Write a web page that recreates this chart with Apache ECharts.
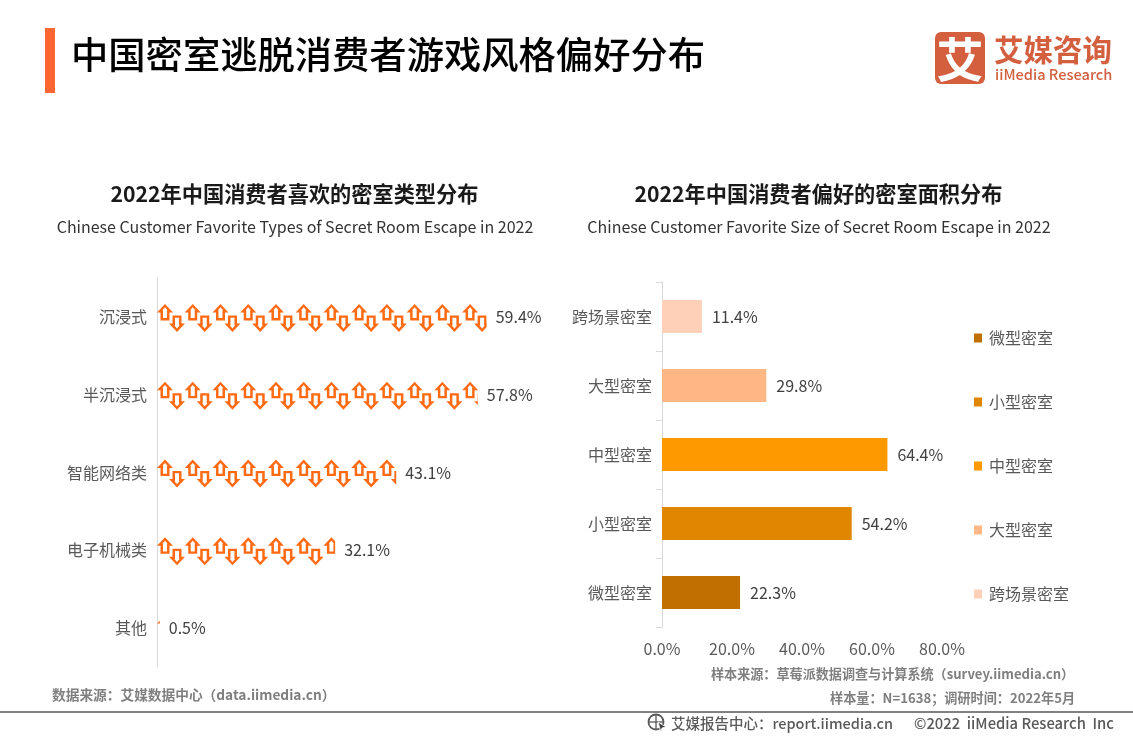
<!DOCTYPE html>
<html>
<head>
<meta charset="utf-8">
<title>中国密室逃脱消费者游戏风格偏好分布</title>
<script src="https://cdn.jsdelivr.net/npm/echarts@6/dist/echarts.min.js"></script>
<style>
html, body { margin: 0; padding: 0; background: #fff; }
#main { width: 1133px; height: 737px; }
</style>
</head>
<body>
<div id="main"></div>
<script>
var typeCategories = ['其他', '电子机械类', '智能网络类', '半沉浸式', '沉浸式'];
var typeValues = [0.5, 32.1, 43.1, 57.8, 59.4];
var sizeCategories = ['微型密室', '小型密室', '中型密室', '大型密室', '跨场景密室'];
var sizeValues = [22.3, 54.2, 64.4, 29.8, 11.4];
var sizeColors = ['#BF7000', '#E08600', '#FF9900', '#FFB885', '#FFD0B8'];
var sizeTicks = [0, 20, 40, 60, 80];

var FONT = '"Noto Sans CJK SC", "Noto Sans", sans-serif';
// 上下箭头一组，内圈反向绕行留出空心
var arrowPath = 'path://M7.5 0L15.5 8.5L12 8.5L12 16.5L3 16.5L3 8.5L-0.5 8.5Z' +
    'M7.5 3.4L4.9 6.3L5.5 6.3L5.5 14.2L9.5 14.2L9.5 6.3L10.1 6.3Z' +
    'M19.5 28L11.5 19.5L15 19.5L15 11.5L24 11.5L24 19.5L27.5 19.5Z' +
    'M19.5 24.6L22.1 21.7L21.5 21.7L21.5 13.8L17.5 13.8L17.5 21.7L16.9 21.7Z';

function txt(x, y, text, size, color, weight, align) {
    return {
        type: 'text',
        x: x,
        y: y,
        style: {
            text: text,
            font: (weight || 'normal') + ' ' + size + 'px ' + FONT,
            fill: color,
            textAlign: align || 'left',
            textVerticalAlign: 'middle'
        }
    };
}

function pctLabel(distance) {
    return {
        show: true,
        position: 'right',
        distance: distance,
        color: '#404040',
        fontSize: 16,
        fontFamily: FONT,
        formatter: function (p) { return p.value.toFixed(1) + '%'; }
    };
}

// 右图每个类别一个系列，图例才能分色
var sizeSeries = sizeCategories.map(function (name, i) {
    return {
        name: name,
        type: 'bar',
        stack: 'size',
        xAxisIndex: 1,
        yAxisIndex: 1,
        barWidth: 33,
        itemStyle: { color: sizeColors[i] },
        label: pctLabel(10),
        data: sizeValues.map(function (v, j) { return j === i ? v : null; })
    };
});

var myChart = echarts.init(document.getElementById('main'));
var option = {
    animation: false,
    backgroundColor: '#fff',
    textStyle: { fontFamily: FONT },
    legend: {
        orient: 'vertical',
        left: 974,
        top: 330,
        padding: 0,
        itemWidth: 8,
        itemHeight: 9,
        itemGap: 48,
        icon: 'rect',
        textStyle: { color: '#595959', fontSize: 16, fontFamily: FONT, padding: [0, 0, 0, 2] },
        data: sizeCategories
    },
    grid: [
        { left: 157, top: 278, width: 555, height: 389 },
        { left: 662, top: 282, width: 280, height: 345 }
    ],
    xAxis: [
        { gridIndex: 0, type: 'value', min: 0, max: 100, show: false },
        {
            gridIndex: 1,
            type: 'value',
            min: sizeTicks[0],
            max: sizeTicks[sizeTicks.length - 1],
            interval: 20,
            axisLine: { show: false },
            axisTick: { show: false },
            splitLine: { show: false },
            axisLabel: {
                color: '#595959',
                fontSize: 16,
                fontFamily: FONT,
                margin: 14,
                formatter: function (v) { return v.toFixed(1) + '%'; }
            }
        }
    ],
    yAxis: [
        {
            gridIndex: 0,
            type: 'category',
            data: typeCategories,
            axisLine: { show: true, lineStyle: { color: '#D9D9D9', width: 1 } },
            axisTick: { show: false },
            axisLabel: { color: '#595959', fontSize: 16, fontFamily: FONT, margin: 10 }
        },
        {
            gridIndex: 1,
            type: 'category',
            data: sizeCategories,
            axisLine: { show: true, lineStyle: { color: '#D9D9D9', width: 1 } },
            axisTick: { show: true, length: 6, lineStyle: { color: '#D9D9D9' } },
            axisLabel: { color: '#595959', fontSize: 16, fontFamily: FONT, margin: 10 }
        }
    ],
    series: [{
        name: '密室类型',
        type: 'pictorialBar',
        xAxisIndex: 0,
        yAxisIndex: 0,
        symbol: arrowPath,
        symbolSize: [28, 28],
        symbolOffset: [0, 1],
        // 次数固定，间距由 echarts 按 symbolBoundingData 摊开
        symbolRepeat: 20,
        symbolClip: true,
        symbolBoundingData: 100,
        itemStyle: { color: '#FF6A13' },
        data: typeValues
    }, {
        // 透明条只用来放数值标签，pictorialBar 的标签不跟裁剪走
        name: '密室类型标签',
        type: 'bar',
        xAxisIndex: 0,
        yAxisIndex: 0,
        barWidth: 28,
        itemStyle: { color: 'transparent' },
        label: pctLabel(9),
        data: typeValues
    }].concat(sizeSeries),
    graphic: [
        { type: 'rect', shape: { x: 45, y: 28, width: 10, height: 65 }, style: { fill: '#FF6633' } },
        txt(71, 55, '中国密室逃脱消费者游戏风格偏好分布', 37.3, '#000000', 500),
        { type: 'rect', shape: { x: 935, y: 32, width: 50, height: 52, r: 6 }, style: { fill: '#D35F3F' } },
        txt(960, 59, '艾', 47, '#ffffff', 'bold', 'center'),
        txt(994, 50, '艾媒咨询', 29.5, '#D35F3F', 'bold'),
        txt(995, 74, 'iiMedia Research', 14.6, '#D35F3F', 500),
        txt(294.5, 194, '2022年中国消费者喜欢的密室类型分布', 21.2, '#1a1a1a', 'bold', 'center'),
        txt(295, 227, 'Chinese Customer Favorite Types of Secret Room Escape in 2022', 16, '#333333', 'normal', 'center'),
        txt(818.5, 194, '2022年中国消费者偏好的密室面积分布', 21.2, '#1a1a1a', 'bold', 'center'),
        txt(819, 227, 'Chinese Customer Favorite Size of Secret Room Escape in 2022', 16, '#333333', 'normal', 'center'),
        txt(711, 674, '样本来源：草莓派数据调查与计算系统（survey.iimedia.cn）', 13.1, '#7F7F7F', 'bold'),
        txt(830, 698, '样本量：N=1638；调研时间：2022年5月', 13.15, '#7F7F7F', 'bold'),
        txt(52, 695, '数据来源：艾媒数据中心（data.iimedia.cn）', 13.7, '#7F7F7F', 'bold'),
        { type: 'rect', shape: { x: 0, y: 711, width: 1133, height: 2 }, style: { fill: '#808080' } },
        { type: 'circle', shape: { cx: 656, cy: 722, r: 7.5 }, style: { fill: 'none', stroke: '#595959', lineWidth: 1.8 } },
        { type: 'line', shape: { x1: 649, y1: 722, x2: 663, y2: 722 }, style: { stroke: '#595959', lineWidth: 1.3 } },
        { type: 'line', shape: { x1: 656, y1: 715, x2: 656, y2: 729 }, style: { stroke: '#595959', lineWidth: 1.3 } },
        { type: 'polygon', shape: { points: [[658, 722], [666, 727], [662, 728], [661, 732]] }, style: { fill: '#404040', stroke: '#fff', lineWidth: 0.8 } },
        txt(671, 723, '艾媒报告中心：report.iimedia.cn', 14.5, '#595959', 500),
        txt(914, 723, '©2022  iiMedia Research  Inc', 14.8, '#595959', 500)
    ]
};
myChart.setOption(option);
</script>
</body>
</html>
